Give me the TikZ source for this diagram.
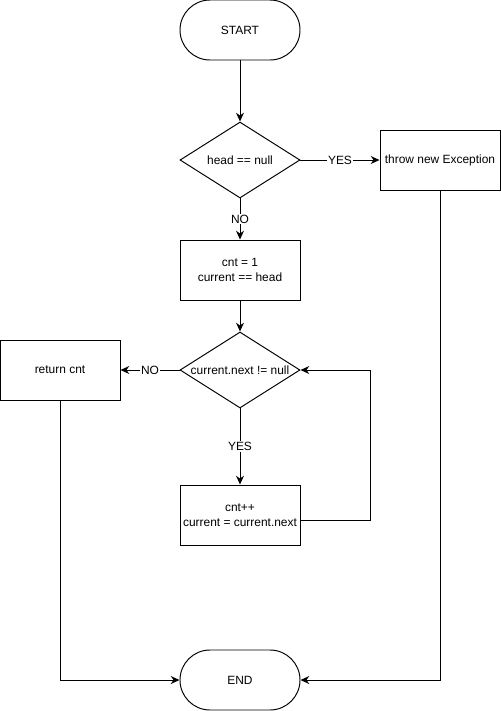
\documentclass[tikz,border=0pt]{standalone}
\usepackage{fontspec}
\setmainfont{Liberation Sans}
\usetikzlibrary{arrows.meta,positioning,shapes.geometric}

\begin{document}
\begin{tikzpicture}[
    font=\fontsize{6.8}{8.2}\selectfont, line width=0.55pt,
    term/.style={draw, rounded corners=0.6cm, minimum width=2.4cm, minimum height=1.2cm,
                 align=center, inner sep=0pt},
    pbox/.style={draw, minimum width=2.4cm, minimum height=1.2cm, align=center, inner sep=0pt},
    dec/.style={draw, diamond, aspect=1.58, minimum width=2.4cm, minimum height=1.52cm, inner sep=0pt},
    lbl/.style={fill=white, inner sep=0.5pt},
    flow/.style={-{Stealth[length=5pt,width=4.5pt]}},
]
\useasboundingbox (0,0) rectangle (10.02,-14.22);

\node[term] (start) at (4.8,-0.6) {START};
\node[dec, label={center:head == null}] (d1) at (4.8,-3.2) {};
\node[pbox] (exc) at (8.8,-3.2) {throw new Exception};
\node[pbox] (init) at (4.8,-5.4) {cnt = 1\\current == head};
\node[dec, label={center:current.next != null}] (d2) at (4.8,-7.4) {};
\node[pbox] (ret) at (1.2,-7.4) {return cnt};
\node[pbox] (inc) at (4.8,-10.3) {cnt++\\current = current.next};
\node[term] (end) at (4.8,-13.6) {END};

\draw[flow] (start) -- (d1);
\draw[flow] (d1) -- node[lbl] {YES} (exc);
\draw[flow] (d1) -- node[lbl] {NO} (init);
\draw[flow] (init) -- (d2);
\draw[flow] (d2) -- node[lbl] {NO} (ret);
\draw[flow] (d2) -- node[lbl] {YES} (inc);
\draw[flow] ([yshift=-0.1cm]inc.east) -- ++(1.4,0) |- (d2.east);
\draw[flow] (ret.south) |- (end.west);
\draw[flow] (exc.south) |- (end.east);
\end{tikzpicture}
\end{document}
